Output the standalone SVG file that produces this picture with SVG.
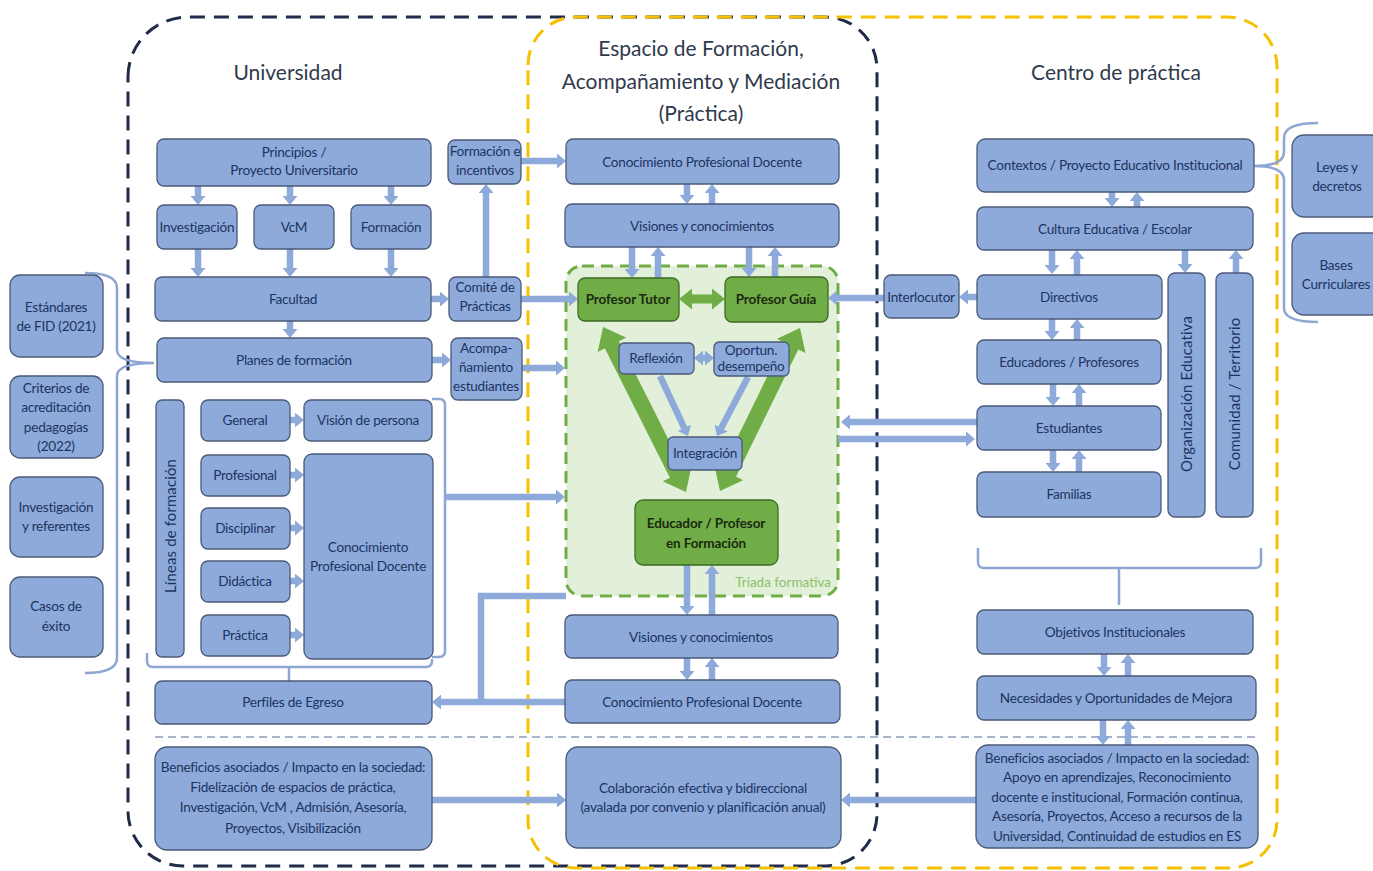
<svg xmlns="http://www.w3.org/2000/svg" width="1373" height="871" viewBox="0 0 1373 871">
<defs>
<style>
.box{fill:#8eaadb;stroke:#4a5a78;stroke-width:1.3}
.gbox{fill:#70ad47;stroke:#3d6a25;stroke-width:1.3}
.t{font-family:Lato,"Liberation Sans",sans-serif;font-size:13.6px;fill:#1c3461;text-anchor:middle;letter-spacing:-0.25px}
.tg{font-family:Lato,"Liberation Sans",sans-serif;font-size:13.5px;font-weight:bold;fill:#1b2a10;text-anchor:middle;letter-spacing:-0.1px}
.tr{font-size:14.8px;letter-spacing:0.2px}
.title{font-family:Lato,"Liberation Sans",sans-serif;font-size:21px;fill:#2f3a4c;text-anchor:middle}
.arr{stroke:#8eaadb;stroke-width:6.5;fill:none;marker-end:url(#ah)}
.arr2{stroke:#8eaadb;stroke-width:6.5;fill:none;marker-end:url(#ah);marker-start:url(#ah)}
.ln{stroke:#8eaadb;stroke-width:6.5;fill:none}
.br{stroke:#8ea6d2;stroke-width:2.5;fill:none}
.garr{stroke:#70ad47;stroke-width:16;fill:none;marker-start:url(#gh);marker-end:url(#gh)}
</style>
<marker id="ah" markerUnits="userSpaceOnUse" viewBox="0 0 9 15" markerWidth="9" markerHeight="15" refX="3" refY="7.5" orient="auto-start-reverse"><path d="M0,0 L9,7.5 L0,15 Z" fill="#8eaadb"/></marker>
<marker id="gh" markerUnits="userSpaceOnUse" viewBox="0 0 20 32" markerWidth="20" markerHeight="32" refX="6" refY="16" orient="auto-start-reverse"><path d="M0,0 L20,16 L0,32 Z" fill="#70ad47"/></marker>
<marker id="gs" markerUnits="userSpaceOnUse" viewBox="0 0 13 21" markerWidth="13" markerHeight="21" refX="4" refY="10.5" orient="auto-start-reverse"><path d="M0,0 L13,10.5 L0,21 Z" fill="#70ad47"/></marker>
</defs>
<rect width="1373" height="871" fill="#ffffff"/>

<g id="containers">
<path d="M128,77 A60,60 0 0 1 188,17 L825,17 A52,52 0 0 1 877,69 L877,814 A52,52 0 0 1 825,866 L183,866 A55,55 0 0 1 128,811 Z" fill="none" stroke="#1f2b48" stroke-width="3" stroke-dasharray="15 9"/>
<path d="M528,65 A48,48 0 0 1 576,17 L1227,17 A50,50 0 0 1 1277,67 L1277,820 A48,48 0 0 1 1229,868 L576,868 A48,48 0 0 1 528,820 Z" fill="none" stroke="#f5c000" stroke-width="3" stroke-dasharray="15 9"/>
<rect x="566" y="266" width="272" height="330" rx="16" fill="#e2efd9" stroke="#70ad47" stroke-width="3" stroke-dasharray="12 7"/>
<line x1="155" y1="737" x2="1258" y2="737" stroke="#a9b5c9" stroke-width="2" stroke-dasharray="8 5"/>
<text class="title" x="288" y="80">Universidad</text>
<text class="title" x="701" y="56" font-size="22">Espacio de Formación,</text>
<text class="title" x="701" y="89" font-size="22">Acompañamiento y Mediación</text>
<text class="title" x="701" y="121" font-size="22">(Práctica)</text>
<text class="title" x="1116" y="80">Centro de práctica</text>
<text x="831" y="587" font-family="Lato,'Liberation Sans',sans-serif" font-size="13.5" fill="#8cc168" text-anchor="end">Triada formativa</text>
</g>

<g id="connectors">
<line class="arr" x1="198" y1="186" x2="198" y2="199"/>
<line class="arr" x1="290" y1="186" x2="290" y2="199"/>
<line class="arr" x1="391" y1="186" x2="391" y2="199"/>
<line class="arr" x1="198" y1="249" x2="198" y2="271"/>
<line class="arr" x1="290" y1="249" x2="290" y2="271"/>
<line class="arr" x1="391" y1="249" x2="391" y2="271"/>
<line class="arr" x1="290" y1="321" x2="290" y2="332"/>
<line class="arr" x1="431" y1="299" x2="443" y2="299"/>
<line class="arr" x1="486" y1="277" x2="486" y2="190"/>
<line class="arr" x1="521" y1="161" x2="560" y2="161"/>
<line class="arr" x1="521" y1="299" x2="572" y2="299"/>
<line class="arr" x1="432" y1="360" x2="445" y2="360"/>
<line class="arr" x1="522" y1="368" x2="559" y2="368"/>
<line class="arr" x1="445" y1="497" x2="559" y2="497"/>
<line class="arr" x1="290" y1="420" x2="298" y2="420"/>
<line class="arr" x1="290" y1="475" x2="298" y2="475"/>
<line class="arr" x1="290" y1="528" x2="298" y2="528"/>
<line class="arr" x1="290" y1="581" x2="298" y2="581"/>
<line class="arr" x1="290" y1="635" x2="298" y2="635"/>
<polyline class="ln" points="566,596 481,596 481,702"/>
<line class="arr" x1="565" y1="702" x2="438" y2="702"/>
<line class="arr" x1="432" y1="800" x2="560" y2="800"/>
<line class="arr" x1="687" y1="184" x2="687" y2="198"/>
<line class="arr" x1="712" y1="204" x2="712" y2="190"/>
<line class="arr" x1="632" y1="247" x2="632" y2="272"/>
<line class="arr" x1="658" y1="278" x2="658" y2="253"/>
<line class="arr" x1="749" y1="247" x2="749" y2="271"/>
<line class="arr" x1="775" y1="277" x2="775" y2="253"/>
<line class="arr" x1="687" y1="565" x2="687" y2="609"/>
<line class="arr" x1="712" y1="615" x2="712" y2="571"/>
<line class="arr" x1="687" y1="658" x2="687" y2="674"/>
<line class="arr" x1="712" y1="680" x2="712" y2="664"/>
<line class="garr" x1="609.3" y1="339.5" x2="679.7" y2="479.5"/>
<line class="garr" x1="793.8" y1="340.6" x2="726.2" y2="478.4"/>
<line x1="688" y1="299" x2="716" y2="299" stroke="#70ad47" stroke-width="9" marker-start="url(#gs)" marker-end="url(#gs)"/>
<line class="arr2" x1="700" y1="358" x2="708" y2="358"/>
<line class="arr" x1="660" y1="376" x2="685.5" y2="430.6" stroke-width="5"/>
<line class="arr" x1="748" y1="377" x2="719.8" y2="430.7" stroke-width="5"/>
<line class="arr" x1="884" y1="298" x2="834" y2="298"/>
<line class="arr" x1="977" y1="297" x2="965" y2="297"/>
<line class="arr" x1="1112" y1="192" x2="1112" y2="201"/>
<line class="arr" x1="1137" y1="207" x2="1137" y2="198"/>
<line class="arr" x1="1052" y1="250" x2="1052" y2="268"/>
<line class="arr" x1="1077" y1="275" x2="1077" y2="256"/>
<line class="arr" x1="1185" y1="250" x2="1185" y2="267"/>
<line class="arr" x1="1236" y1="273" x2="1236" y2="256"/>
<line class="arr" x1="1052" y1="319" x2="1052" y2="334"/>
<line class="arr" x1="1077" y1="340" x2="1077" y2="325"/>
<line class="arr" x1="1053" y1="384" x2="1053" y2="400"/>
<line class="arr" x1="1079" y1="406" x2="1079" y2="390"/>
<line class="arr" x1="1053" y1="450" x2="1053" y2="466"/>
<line class="arr" x1="1079" y1="472" x2="1079" y2="456"/>
<line class="arr" x1="977" y1="422" x2="847" y2="422"/>
<line class="arr" x1="838" y1="439" x2="969" y2="439"/>
<line class="arr" x1="1104" y1="654" x2="1104" y2="670"/>
<line class="arr" x1="1128" y1="676" x2="1128" y2="660"/>
<line class="arr" x1="1103" y1="720" x2="1103" y2="739"/>
<line class="arr" x1="1128" y1="745" x2="1128" y2="726"/>
<line class="arr" x1="976" y1="800" x2="847" y2="800"/>
<path class="br" d="M85,273 Q117,273 117,288 L117,350 Q117,363 154,363 Q117,363 117,376 L117,658 Q117,673 85,673"/>
<path class="br" d="M432,399 L439,399 Q445,399 445,405 L445,651 Q445,657 439,657 L432,657"/>
<path class="br" d="M147,653 L147,661 Q147,667 153,667 L426,667 Q432,667 432,661 L432,659 M289,667 L289,681"/>
<path class="br" d="M978,548 L978,562 Q978,568 984,568 L1255,568 Q1261,568 1261,562 L1261,548 M1119,568 L1119,605"/>
<path class="br" d="M1318,123 Q1284,123 1284,138 L1284,152 Q1284,166 1254,166 Q1284,166 1284,180 L1284,308 Q1284,322 1318,322"/>
</g>

<g id="n-estandares"><rect class="box" x="10" y="275" width="93" height="82" rx="10"/><text class="t" x="56" y="312">Estándares</text><text class="t" x="56" y="331">de FID (2021)</text></g>
<g id="n-criterios"><rect class="box" x="10" y="376" width="93" height="82" rx="10"/><text class="t" x="56" y="393">Criterios de</text><text class="t" x="56" y="412">acreditación</text><text class="t" x="56" y="432">pedagogías</text><text class="t" x="56" y="451">(2022)</text></g>
<g id="n-invref"><rect class="box" x="10" y="477" width="93" height="80" rx="10"/><text class="t" x="56" y="512">Investigación</text><text class="t" x="56" y="531">y referentes</text></g>
<g id="n-casos"><rect class="box" x="10" y="577" width="93" height="80" rx="10"/><text class="t" x="56" y="611">Casos de</text><text class="t" x="56" y="631">éxito</text></g>

<g id="n-principios"><rect class="box" x="157" y="139" width="274" height="47" rx="7"/><text class="t" x="294" y="157">Principios /</text><text class="t" x="294" y="175">Proyecto Universitario</text></g>
<g id="n-investigacion"><rect class="box" x="157" y="205" width="80" height="44" rx="7"/><text class="t" x="197" y="231.5">Investigación</text></g>
<g id="n-vcm"><rect class="box" x="254" y="205" width="80" height="44" rx="7"/><text class="t" x="294" y="231.5">VcM</text></g>
<g id="n-formacion"><rect class="box" x="351" y="205" width="80" height="44" rx="7"/><text class="t" x="391" y="231.5">Formación</text></g>
<g id="n-facultad"><rect class="box" x="155" y="277" width="276" height="44" rx="7"/><text class="t" x="293" y="303.5">Facultad</text></g>
<g id="n-planes"><rect class="box" x="157" y="338" width="275" height="44" rx="7"/><text class="t" x="294" y="364.5">Planes de formación</text></g>
<g id="n-forminc"><rect class="box" x="448" y="140" width="73" height="44" rx="7"/><text class="t" x="485" y="156">Formación e</text><text class="t" x="485" y="175">incentivos</text></g>
<g id="n-comite"><rect class="box" x="449" y="277" width="72" height="44" rx="7"/><text class="t" x="485" y="292">Comité de</text><text class="t" x="485" y="311">Prácticas</text></g>
<g id="n-acomp"><rect class="box" x="451" y="338" width="71" height="62" rx="7"/><text class="t" x="486" y="353">Acompa-</text><text class="t" x="486" y="372">ñamiento</text><text class="t" x="486" y="391">estudiantes</text></g>
<g id="n-lineas"><rect class="box" x="156" y="400" width="28" height="257" rx="6"/><text class="t tr" transform="translate(171,526) rotate(-90)" x="0" y="5" fill="#55699c">Líneas de formación</text></g>
<g id="n-general"><rect class="box" x="201" y="400" width="89" height="41" rx="7"/><text class="t" x="245" y="425">General</text></g>
<g id="n-vision"><rect class="box" x="304" y="400" width="128" height="41" rx="7"/><text class="t" x="368" y="425">Visión de persona</text></g>
<g id="n-profesional"><rect class="box" x="201" y="455" width="89" height="41" rx="7"/><text class="t" x="245" y="479.5">Profesional</text></g>
<g id="n-disciplinar"><rect class="box" x="201" y="508" width="89" height="41" rx="7"/><text class="t" x="245" y="532.5">Disciplinar</text></g>
<g id="n-didactica"><rect class="box" x="201" y="561" width="89" height="41" rx="7"/><text class="t" x="245" y="585.5">Didáctica</text></g>
<g id="n-practica"><rect class="box" x="201" y="615" width="89" height="41" rx="7"/><text class="t" x="245" y="639.5">Práctica</text></g>
<g id="n-cpd-u"><rect class="box" x="304" y="454" width="129" height="205" rx="8"/><text class="t" x="368" y="551.5">Conocimiento</text><text class="t" x="368" y="570.5">Profesional Docente</text></g>
<g id="n-perfiles"><rect class="box" x="155" y="681" width="277" height="43" rx="7"/><text class="t" x="293" y="707">Perfiles de Egreso</text></g>
<g id="n-benef-u"><rect class="box" x="155" y="747" width="277" height="103" rx="12"/><text class="t" x="293" y="772">Beneficios asociados / Impacto en la sociedad:</text><text class="t" x="293" y="792">Fidelización de espacios de práctica,</text><text class="t" x="293" y="812">Investigación, VcM , Admisión, Asesoría,</text><text class="t" x="293" y="833">Proyectos, Visibilización</text></g>

<g id="n-cpd-top"><rect class="box" x="566" y="139" width="273" height="45" rx="7"/><text class="t" x="702" y="166.5">Conocimiento Profesional Docente</text></g>
<g id="n-vis-top"><rect class="box" x="565" y="204" width="274" height="43" rx="7"/><text class="t" x="702" y="230.5">Visiones y conocimientos</text></g>
<g id="n-tutor"><rect class="gbox" x="578" y="278" width="101" height="43" rx="7"/><text class="tg" x="628" y="303.5">Profesor Tutor</text></g>
<g id="n-guia"><rect class="gbox" x="725" y="277" width="103" height="45" rx="7"/><text class="tg" x="776" y="303.5">Profesor Guía</text></g>
<g id="n-reflexion"><rect class="box" x="619" y="343" width="75" height="31" rx="5"/><text class="t" x="656" y="362.5">Reflexión</text></g>
<g id="n-oportun"><rect class="box" x="714" y="342" width="75" height="34" rx="5"/><text class="t" x="751" y="355">Oportun.</text><text class="t" x="751" y="371">desempeño</text></g>
<g id="n-integracion"><rect class="box" x="668" y="437" width="74" height="33" rx="5"/><text class="t" x="705" y="457.5">Integración</text></g>
<g id="n-educador"><rect class="gbox" x="635" y="500" width="143" height="65" rx="8"/><text class="tg" x="706" y="528">Educador / Profesor</text><text class="tg" x="706" y="548">en Formación</text></g>
<g id="n-vis-bot"><rect class="box" x="565" y="615" width="273" height="43" rx="7"/><text class="t" x="701" y="641.5">Visiones y conocimientos</text></g>
<g id="n-cpd-bot"><rect class="box" x="565" y="680" width="275" height="43" rx="7"/><text class="t" x="702" y="706.5">Conocimiento Profesional Docente</text></g>
<g id="n-colab"><rect class="box" x="566" y="747" width="275" height="101" rx="12"/><text class="t" x="703" y="793">Colaboración efectiva y bidireccional</text><text class="t" x="703" y="812">(avalada por convenio y planificación anual)</text></g>

<g id="n-contextos"><rect class="box" x="977" y="139" width="277" height="53" rx="8"/><text class="t" x="1115" y="169.5">Contextos / Proyecto Educativo Institucional</text></g>
<g id="n-cultura"><rect class="box" x="977" y="207" width="276" height="43" rx="7"/><text class="t" x="1115" y="233.5">Cultura Educativa / Escolar</text></g>
<g id="n-interlocutor"><rect class="box" x="884" y="275" width="75" height="43" rx="7"/><text class="t" x="921" y="301.5">Interlocutor</text></g>
<g id="n-directivos"><rect class="box" x="977" y="275" width="185" height="44" rx="7"/><text class="t" x="1069" y="301.5">Directivos</text></g>
<g id="n-educadores"><rect class="box" x="977" y="340" width="184" height="44" rx="7"/><text class="t" x="1069" y="366.5">Educadores / Profesores</text></g>
<g id="n-estudiantes"><rect class="box" x="977" y="406" width="184" height="44" rx="7"/><text class="t" x="1069" y="432.5">Estudiantes</text></g>
<g id="n-familias"><rect class="box" x="977" y="472" width="184" height="45" rx="7"/><text class="t" x="1069" y="498.5">Familias</text></g>
<g id="n-organizacion"><rect class="box" x="1168" y="273" width="37" height="244" rx="7"/><text class="t tr" transform="translate(1187,394) rotate(-90)" x="0" y="5">Organización Educativa</text></g>
<g id="n-comunidad"><rect class="box" x="1216" y="273" width="37" height="244" rx="7"/><text class="t tr" transform="translate(1235,394) rotate(-90)" x="0" y="5">Comunidad / Territorio</text></g>
<g id="n-objetivos"><rect class="box" x="977" y="610" width="276" height="44" rx="7"/><text class="t" x="1115" y="636.5">Objetivos Institucionales</text></g>
<g id="n-necesidades"><rect class="box" x="977" y="676" width="279" height="44" rx="7"/><text class="t" x="1116" y="702.5">Necesidades y Oportunidades de Mejora</text></g>
<g id="n-benef-c"><rect class="box" x="976" y="745" width="282" height="103" rx="12"/><text class="t" x="1117" y="762.5">Beneficios asociados / Impacto en la sociedad:</text><text class="t" x="1117" y="781.5">Apoyo en aprendizajes, Reconocimiento</text><text class="t" x="1117" y="801.5">docente e institucional, Formación continua,</text><text class="t" x="1117" y="820.5">Asesoría, Proyectos, Acceso a recursos de la</text><text class="t" x="1117" y="840.5">Universidad, Continuidad de estudios en ES</text></g>
<g id="n-leyes"><rect class="box" x="1292" y="135" width="100" height="82" rx="12"/><text class="t" x="1337" y="171.5">Leyes y</text><text class="t" x="1337" y="190.5">decretos</text></g>
<g id="n-bases"><rect class="box" x="1292" y="233" width="100" height="82" rx="12"/><text class="t" x="1336" y="269.5">Bases</text><text class="t" x="1336" y="288.5">Curriculares</text></g>
</svg>
